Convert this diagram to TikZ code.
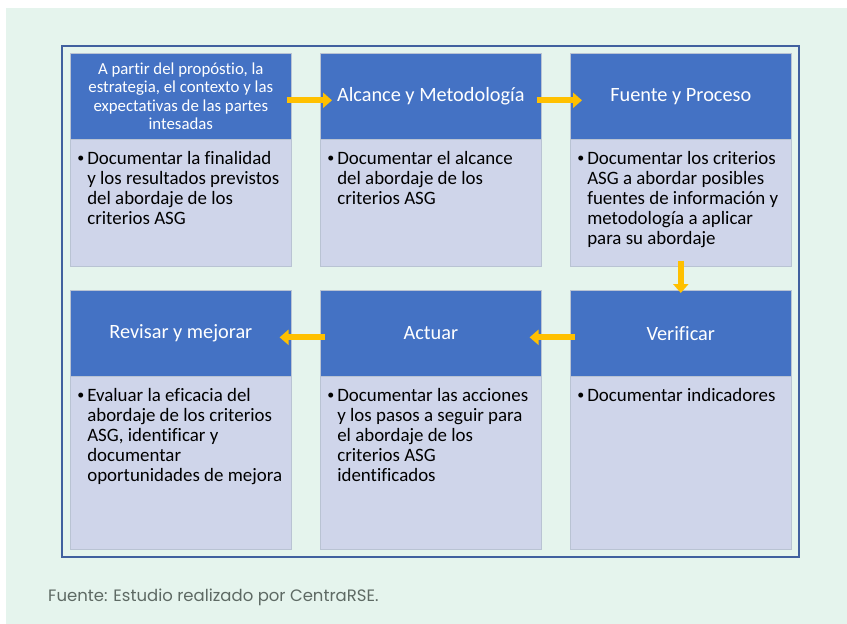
\documentclass[tikz,border=0pt]{standalone}
\usepackage{fontspec}
\setmainfont{Carlito}[Ligatures={NoCommon}]
\newfontfamily\capfont{Poppins}
\usetikzlibrary{arrows.meta}

\definecolor{bgmint}{HTML}{E5F4ED}
\definecolor{frameblue}{HTML}{41609F}
\definecolor{headblue}{HTML}{4472C4}
\definecolor{bodylilac}{HTML}{CFD5EA}
\definecolor{edgegray}{HTML}{B9C3D3}
\definecolor{arrowgold}{HTML}{FFC000}
\definecolor{capgray}{HTML}{5E6A64}

% body text of a cell: bullet, hanging lines, top aligned
\newcommand{\cellbody}[2]{\parbox[t][#1][t]{207pt}{\fontsize{18.9}{20}\selectfont
  \rightskip=0pt plus 1fil\hangindent=10pt\hangafter=1\rule{0pt}{17pt}%
  \makebox[10pt][l]{\raisebox{1.5pt}{\fontsize{14}{14}\selectfont\textbullet}}#2}}

\tikzset{
  headbox/.style={fill=headblue, draw=edgegray, line width=0.6pt, text=white,
    minimum width=221pt, minimum height=86pt, anchor=north west,
    align=center, inner sep=0pt, font=\fontsize{20.3}{22}\selectfont},
  bodybox/.style={fill=bodylilac, draw=edgegray, line width=0.6pt,
    anchor=north west, inner xsep=7pt, inner ysep=8pt},
  flow/.style={arrowgold, line width=6pt, -{Triangle[width=15pt,length=9pt]},
    shorten <=-5pt, shorten >=-12pt}
}

\begin{document}
\begin{tikzpicture}[x=1pt,y=-1pt]
	\useasboundingbox (0,0) rectangle (847,624);
	\fill[white] (0,0) rectangle (847,624);
	\fill[bgmint] (6,8) rectangle (847,624);
	\draw[frameblue, line width=2pt] (62,46) rectangle (799,557);

	% top row
	\node [headbox, font=\fontsize{16.8}{18.5}\selectfont] (propH) at (70,53) {A partir del propóstio, la\\estrategia, el contexto y las\\expectativas de las partes\\intesadas};
	\node [bodybox] (propB) at (70,139) {\cellbody{111pt}{Documentar la finalidad\\y los resultados previstos\\del abordaje de los\\criterios ASG}};
	\node [headbox] (alcH) at (320,53) {Alcance y Metodología};
	\node [bodybox] (alcB) at (320,139) {\cellbody{111pt}{Documentar el alcance\\del abordaje de los\\criterios ASG}};
	\node [headbox] (fueH) at (570,53) {Fuente y Proceso};
	\node [bodybox] (fueB) at (570,139) {\cellbody{111pt}{Documentar los criterios\\ASG a abordar posibles\\fuentes de información y\\metodología a aplicar\\para su abordaje}};

	% bottom row
	\node [headbox] (revH) at (70,290) {Revisar y mejorar};
	\node [bodybox] (revB) at (70,376) {\cellbody{157pt}{Evaluar la eficacia del\\abordaje de los criterios\\ASG, identificar y\\documentar\\oportunidades de mejora}};
	\node [headbox] (actH) at (320,290) {Actuar};
	\node [bodybox] (actB) at (320,376) {\cellbody{157pt}{Documentar las acciones\\y los pasos a seguir para\\el abordaje de los\\criterios ASG\\identificados}};
	\node [headbox] (verH) at (570,290) {Verificar};
	\node [bodybox] (verB) at (570,376) {\cellbody{157pt}{Documentar indicadores}};

	% arrows
	\draw [flow] ([yshift=-4pt]propH.east) -- ([yshift=-4pt]alcH.west);
	\draw [flow] ([yshift=-4pt]alcH.east) -- ([yshift=-4pt]fueH.west);
	\draw [flow, shorten <=-6pt, shorten >=-3pt] (fueB.south) -- (verH.north);
	\draw [flow] ([yshift=-4pt]verH.west) -- ([yshift=-4pt]actH.east);
	\draw [flow] ([yshift=-4pt]actH.west) -- ([yshift=-4pt]revH.east);

	\node [anchor=base west, inner sep=0pt, text=capgray, font=\capfont\fontsize{16.5}{18}\selectfont] (src) at (48,601) {Fuente: Estudio realizado por CentraRSE.};
\end{tikzpicture}
\end{document}
